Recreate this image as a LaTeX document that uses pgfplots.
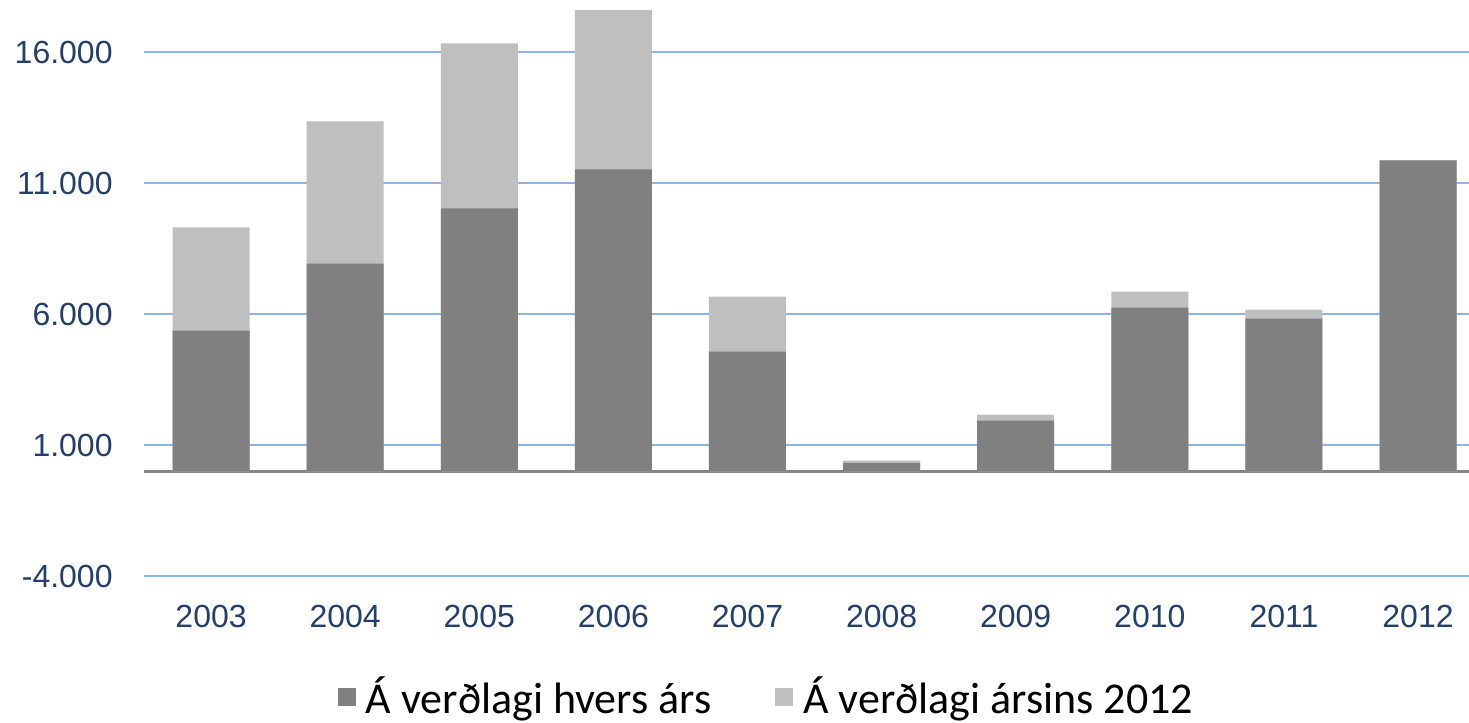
\documentclass[border=0pt]{standalone}
\usepackage{fontspec}
\setmainfont{Carlito}
\newfontfamily\arialf{Liberation Sans}
\usepackage{pgfplots}
\usepackage{pgfplotstable}
\pgfplotsset{compat=1.18}
\definecolor{barDark}{HTML}{808080}
\definecolor{barLight}{HTML}{BFBFBF}
\definecolor{gridBlue}{HTML}{8EB4E3}
\definecolor{tickText}{HTML}{243F6B}
\definecolor{zeroLine}{HTML}{868686}

\pgfplotstableread{
x dark light
0 5373 9311
1 7935 13365
2 10038 16348
3 11530 17610
4 4570 6673
5 325 402
6 1931 2161
7 6252 6864
8 5832 6176
9 11874 11874
}\datatable

\begin{document}
\begin{tikzpicture}
  \useasboundingbox (0,0) rectangle (734.5pt,361.5pt);
  \begin{axis}[
    at={(72pt,73.5pt)}, anchor=south west,
    scale only axis,
    width=662.5pt, height=288pt,
    ybar, bar width=38.5pt,
    xmin=-0.5, xmax=9.38,
    ymin=-4000, ymax=18000,
    xtick={0,...,9},
    xticklabels={2003,2004,2005,2006,2007,2008,2009,2010,2011,2012},
    ytick={-4000,1000,6000,11000,16000},
    yticklabels={-4.000,1.000,6.000,11.000,16.000},
    extra y ticks={0},
    extra y tick labels={},
    extra y tick style={grid style={draw=zeroLine, line width=1.3pt}},
    ymajorgrids,
    grid style={draw=gridBlue, line width=1pt},
    axis line style={draw=none},
    major tick length=0pt,
    tick label style={font=\arialf\fontsize{16}{19}\selectfont, text=tickText, inner sep=0pt},
    yticklabel style={anchor=east, xshift=-15.5pt},
    xticklabel style={anchor=north, yshift=-14.5pt},
    legend style={at={(rel axis cs:0.469,-0.21)}, anchor=center, draw=none,
      font=\fontsize{22}{25}\selectfont, legend columns=2,
      nodes={inner sep=0pt},
      /tikz/every odd column/.append style={column sep=5pt},
      /tikz/every even column/.append style={column sep=32pt}},
    legend image code/.code={\fill[#1, draw=none] (0pt,-4.5pt) rectangle (9pt,4.5pt);},
  ]
    \addplot[fill=barLight, draw=none, bar shift=0pt, forget plot] table[x=x, y=light] {\datatable};
    \addplot[fill=barDark, draw=none, bar shift=0pt, forget plot] table[x=x, y=dark] {\datatable};
    \addlegendimage{fill=barDark, draw=none}
    \addlegendentry{Á verðlagi hvers árs}
    \addlegendimage{fill=barLight, draw=none}
    \addlegendentry{Á verðlagi ársins 2012}
  \end{axis}
\end{tikzpicture}
\end{document}
